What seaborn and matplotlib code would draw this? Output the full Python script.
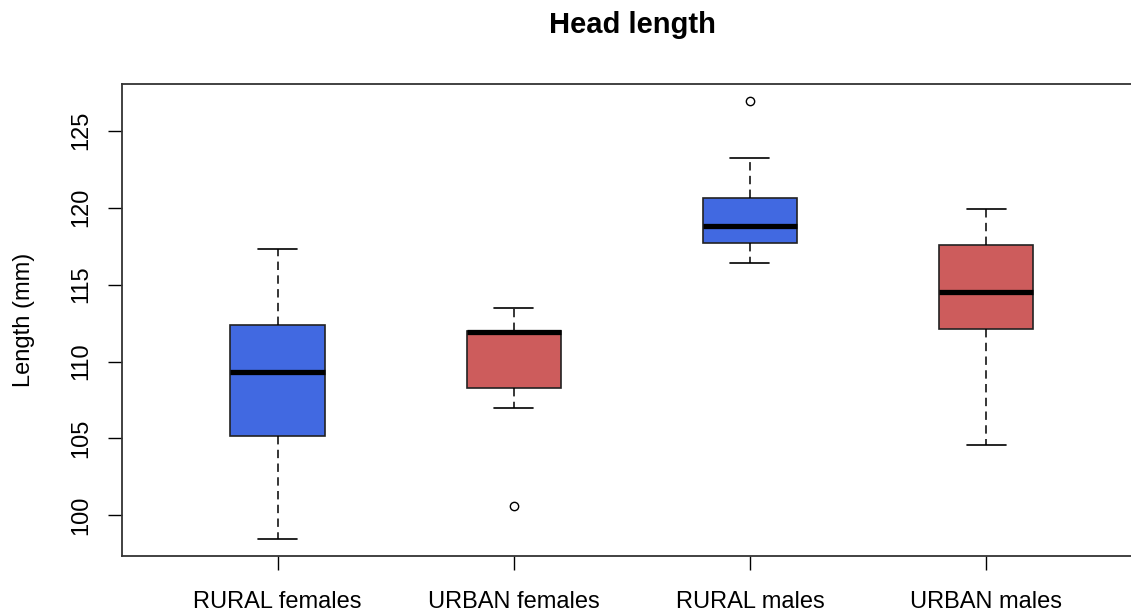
import matplotlib
matplotlib.use("Agg")
import matplotlib.pyplot as plt
import pandas as pd
import seaborn as sns

# Five-number summaries per group (mm)
groups = ["RURAL females", "URBAN females", "RURAL males", "URBAN males"]
whisker_low = [98.5, 106.97, 116.4, 104.58]
quartile_1 = [105.16, 108.27, 117.7, 112.13]
medians = [109.3, 111.93, 118.8, 114.55]
quartile_3 = [112.4, 112.0, 120.6, 117.6]
whisker_high = [117.3, 113.45, 123.2, 119.9]
outliers = [[], [100.6], [126.9], []]
box_colors = ["#4169E1", "#CD5C5C", "#4169E1", "#CD5C5C"]

# Build a long table whose quartiles / whiskers reproduce the summaries
rows = []
for g, lo, q1, md, q3, hi, outs in zip(groups, whisker_low, quartile_1, medians,
                                       quartile_3, whisker_high, outliers):
    below = [o for o in outs if o < lo]
    above = [o for o in outs if o > hi]
    vals = [below[0] if below else lo, lo, q1, q1, md, q3, q3, hi,
            above[0] if above else hi]
    rows += [{"group": g, "length": v} for v in vals]
df = pd.DataFrame(rows)

sns.set_style("ticks")
plt.rcParams["font.family"] = ["Liberation Sans", "DejaVu Sans"]
plt.rcParams["text.color"] = "black"
plt.rcParams["axes.labelcolor"] = "black"

fig = plt.figure(figsize=(11.31, 6.16), dpi=100)
W, H = 1131, 616
left, right, top, bottom = 121.7, 1142.0, 84.0, 556.0
ax = fig.add_axes([left / W, 1 - bottom / H, (right - left) / W, (bottom - top) / H])

sns.boxplot(
    data=df, x="group", y="length", hue="group", order=groups, hue_order=groups,
    palette=dict(zip(groups, box_colors)), saturation=1, width=0.4, legend=False, ax=ax,
    linecolor="#222222", linewidth=1.2, whis=1.5,
    boxprops={"edgecolor": "#222222", "linewidth": 1.2},
    medianprops={"color": "black", "linewidth": 3.8, "solid_capstyle": "butt"},
    whiskerprops={"color": "black", "linewidth": 1.1, "linestyle": (0, (5.5, 3.5))},
    capprops={"color": "black", "linewidth": 1.2},
    flierprops={"marker": "o", "markerfacecolor": "none", "markeredgecolor": "black",
                "markersize": 6, "markeredgewidth": 1.0},
    capwidths=0.165,
)

ax.set_xlim(-0.66, 3.66)
ax.set_ylim(97.364, 128.036)
ax.set_yticks([100, 105, 110, 115, 120, 125])
ax.set_xlabel("")
ax.set_ylabel("Length (mm)", fontsize=17, color="black")
ax.yaxis.set_label_coords(-0.085, 0.5)

ax.tick_params(axis="both", direction="out", length=10, width=1.0, color="black",
               labelsize=17, labelcolor="black", bottom=True, left=True,
               top=False, right=False)
ax.tick_params(axis="x", pad=15)
ax.tick_params(axis="y", pad=11)
for lab in ax.get_yticklabels():
    lab.set_rotation(90)
    lab.set_va("center")

for sp in ax.spines.values():
    sp.set_visible(True)
    sp.set_color("#333333")
    sp.set_linewidth(1.3)

fig.text(632 / W, 1 - 33 / H, "Head length", ha="center", va="baseline",
         fontsize=21, fontweight="bold", color="black")

fig.savefig("out.png", dpi=100, facecolor="white")
